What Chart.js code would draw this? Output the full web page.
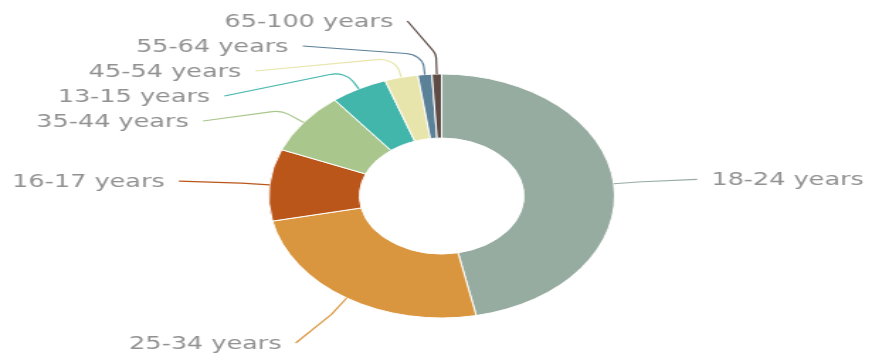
<!DOCTYPE html>
<html>
<head>
<meta charset="utf-8">
<script src="https://cdn.jsdelivr.net/npm/chart.js@4/dist/chart.umd.min.js"></script>
<style>
  html, body { margin: 0; padding: 0; background: #ffffff; overflow: hidden; }
  #wrap { width: 615px; height: 354px; transform: scaleX(1.41789); transform-origin: 0 0; }
  canvas { display: block; }
</style>
</head>
<body>
<div id="wrap"><canvas id="c" width="615" height="354"></canvas></div>
<script>
// Age groups, in slice order (clockwise from 12 o'clock)
const ageGroups = ['18-24 years', '25-34 years', '16-17 years', '35-44 years',
                   '13-15 years', '45-54 years', '55-64 years', '65-100 years'];
// Share of audience per age group (%)
const shares = [46.8, 24.9, 9.5, 8.2, 5.3, 3.1, 1.3, 0.9];
const sliceColors = ['#97aca1', '#d9963f', '#bb561b', '#a9c78c',
                     '#43b6ab', '#e8e5ac', '#5b8198', '#5c4c45'];

// Outside labels with curved leader lines
const outsideLabels = {
  id: 'outsideLabels',
  afterDatasetsDraw(chart) {
    const ctx = chart.ctx;
    const arcs = chart.getDatasetMeta(0).data;
    if (!arcs.length) return;
    const cx = arcs[0].x, cy = arcs[0].y, R = arcs[0].outerRadius;
    const LR = R + 64, RY = R + 54.5, ELBOW = R + 20;
    const GAP = 10, STEP = 25, TOP = 21, BOTTOM = 343;

    const items = arcs.map((a, i) => {
      const mid = (a.startAngle + a.endAngle) / 2;
      const c = Math.cos(mid), s = Math.sin(mid);
      return {
        i, left: c < 0,
        ax: cx + c * R, ay: cy + s * R,
        ex: cx + c * ELBOW, ey: cy + s * ELBOW,
        y: cy + s * LR + 2
      };
    });

    // keep labels on each side from overlapping
    [true, false].forEach(side => {
      const group = items.filter(it => it.left === side).sort((p, q) => p.y - q.y);
      let prev = -Infinity;
      group.forEach(it => { it.y = Math.max(it.y, prev + STEP, TOP); prev = it.y; });
      let next = Infinity;
      for (let k = group.length - 1; k >= 0; k--) {
        group[k].y = Math.min(group[k].y, next - STEP, BOTTOM);
        next = group[k].y;
      }
    });

    ctx.save();
    ctx.font = '18px "DejaVu Sans"';
    ctx.textBaseline = 'middle';
    items.forEach(it => {
      const dir = it.left ? -1 : 1;
      const t = Math.max(-1, Math.min(1, (it.y - cy) / RY));
      const sx = cx + dir * (LR - (it.left ? 0 : 5)) * Math.cos(Math.asin(t));
      // leader line
      ctx.beginPath();
      ctx.strokeStyle = sliceColors[it.i];
      ctx.lineWidth = 1.2;
      ctx.moveTo(sx, it.y);
      ctx.arcTo(it.ex, it.ey, it.ax, it.ay, 14);
      ctx.lineTo(it.ax, it.ay);
      ctx.stroke();
      // text
      ctx.fillStyle = '#919191';
      ctx.textAlign = it.left ? 'right' : 'left';
      ctx.fillText(ageGroups[it.i], sx + dir * GAP, it.y + 1);
    });
    ctx.restore();
  }
};

new Chart(document.getElementById('c'), {
  type: 'doughnut',
  data: {
    labels: ageGroups,
    datasets: [{
      data: shares,
      backgroundColor: sliceColors,
      borderColor: '#ffffff',
      borderWidth: 1,
      radius: 122,
      cutout: '47.5%'
    }]
  },
  options: {
    responsive: false,
    animation: false,
    events: [],
    layout: { padding: { top: 74, bottom: 36, left: 10, right: 2 } },
    plugins: { legend: { display: false }, tooltip: { enabled: false } }
  },
  plugins: [outsideLabels]
});
</script>
</body>
</html>
